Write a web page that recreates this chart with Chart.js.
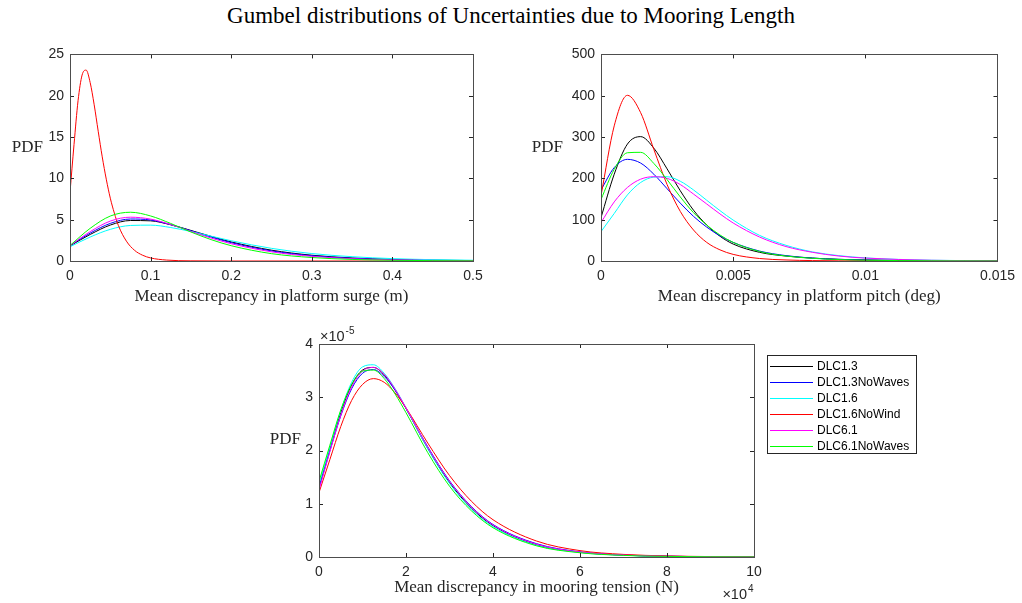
<!DOCTYPE html>
<html>
<head>
<meta charset="utf-8">
<script src="https://cdn.jsdelivr.net/npm/chart.js@4.4.1/dist/chart.umd.min.js"></script>
<style>
  html, body { margin: 0; padding: 0; background: #fff; }
  body { width: 1022px; height: 603px; position: relative; overflow: hidden; }
  #title {
    position: absolute; left: 0; top: 3px; width: 1022px; text-align: center;
    font-family: 'Liberation Serif', serif; font-size: 23px; color: #000;
  }
  .panel { position: absolute; }
</style>
</head>
<body>
<div id="title">Gumbel distributions of Uncertainties due to Mooring Length</div>
<div class="panel" style="left:0;top:40px;width:510px;height:270px"><canvas id="chart-surge"></canvas></div>
<div class="panel" style="left:510px;top:40px;width:512px;height:270px"><canvas id="chart-pitch"></canvas></div>
<div class="panel" style="left:250px;top:320px;width:680px;height:283px"><canvas id="chart-tension"></canvas></div>

<script>
// series names + colours (same order in every panel)
const seriesNames = ['DLC1.3', 'DLC1.3NoWaves', 'DLC1.6', 'DLC1.6NoWind', 'DLC6.1', 'DLC6.1NoWaves'];
const seriesColors = ['#000000', '#0000ff', '#00ffff', '#ff0000', '#ff00ff', '#00ff00'];

// platform surge (m)
const surgeX = [0, 0.025, 0.05, 0.075, 0.1, 0.125, 0.15, 0.175, 0.2, 0.25, 0.3, 0.35, 0.4, 0.45, 0.5];
const surgeRedX = [0, 0.005, 0.01, 0.015, 0.02, 0.025, 0.03, 0.035, 0.04, 0.045, 0.05, 0.055, 0.06, 0.07, 0.08, 0.09, 0.1, 0.12, 0.15, 0.2, 0.3, 0.5];
const surgeBlack = [1.83, 3.21, 4.35, 4.90, 4.86, 4.38, 3.70, 2.98, 2.31, 1.31, 0.70, 0.37, 0.19, 0.10, 0.05];
const surgeBlue = [1.88, 3.37, 4.55, 5.08, 4.96, 4.40, 3.66, 2.90, 2.22, 1.22, 0.64, 0.33, 0.17, 0.08, 0.04];
const surgeCyan = [1.72, 2.90, 3.83, 4.30, 4.34, 4.05, 3.57, 3.01, 2.45, 1.53, 0.90, 0.52, 0.29, 0.16, 0.09];
const surgeRed = [8.3, 14.1, 19.4, 22.5, 23.1, 21.6, 18.9, 15.7, 12.6, 9.9, 7.6, 5.8, 4.3, 2.4, 1.3, 0.7, 0.37, 0.11, 0.02, 0, 0, 0];
const surgeMagenta = [1.86, 3.55, 4.83, 5.30, 5.07, 4.41, 3.58, 2.78, 2.09, 1.11, 0.56, 0.28, 0.14, 0.07, 0.03];
const surgeGreen = [1.88, 3.95, 5.44, 5.90, 5.45, 4.54, 3.51, 2.59, 1.85, 0.89, 0.42, 0.19, 0.09, 0.04, 0.02];

// platform pitch (deg)
const pitchX = [0, 0.0005, 0.001, 0.0015, 0.002, 0.0025, 0.003, 0.0035, 0.004, 0.0045, 0.005, 0.006, 0.007, 0.008, 0.009, 0.01, 0.0125, 0.015];
const pitchBlack = [105, 210, 283, 301, 273, 223, 170, 123, 87, 60, 41, 21, 12, 7, 4, 2.4, 0.6, 0.2];
const pitchBlue = [172, 226, 246, 237, 210, 175, 140, 108, 82, 61, 45, 24, 13, 7, 4, 2.4, 0.6, 0.2];
const pitchCyan = [71, 115, 160, 190, 203, 204, 193, 172, 147, 122, 99, 62, 38, 22, 13, 7.5, 1.9, 0.5];
const pitchRed = [158, 327, 401, 359, 270, 185, 120, 75, 45, 27, 16, 6, 2.5, 1, 0.4, 0.2, 0, 0];
const pitchMagenta = [93, 143, 178, 198, 204, 200, 185, 162, 138, 114, 92, 58, 35, 21, 12, 7, 1.7, 0.4];
const pitchGreen = [149, 222, 262, 263, 236, 197, 155, 117, 87, 63, 45, 23, 12, 6.5, 3.5, 2, 0.5, 0.1];

// mooring tension (N), PDF in units of 1e-5
const tensionX = [0, 2500, 5000, 7500, 10000, 12500, 15000, 17500, 20000, 25000, 30000, 35000, 40000, 50000, 60000, 70000, 80000, 90000, 100000];
const tensionBlack = [1.32, 2.03, 2.71, 3.23, 3.51, 3.56, 3.42, 3.14, 2.79, 2.04, 1.40, 0.92, 0.59, 0.23, 0.089, 0.034, 0.013, 0.005, 0.002];
const tensionBlue = [1.29, 1.99, 2.65, 3.16, 3.45, 3.52, 3.39, 3.13, 2.79, 2.07, 1.43, 0.95, 0.61, 0.25, 0.096, 0.037, 0.014, 0.0055, 0.002];
const tensionCyan = [1.36, 2.06, 2.75, 3.28, 3.57, 3.61, 3.45, 3.16, 2.80, 2.03, 1.38, 0.90, 0.57, 0.22, 0.085, 0.032, 0.012, 0.0045, 0.0017];
const tensionRed = [1.21, 1.83, 2.45, 2.94, 3.24, 3.35, 3.28, 3.08, 2.80, 2.14, 1.53, 1.05, 0.70, 0.30, 0.12, 0.049, 0.02, 0.008, 0.003];
const tensionMagenta = [1.26, 1.98, 2.66, 3.19, 3.49, 3.56, 3.43, 3.15, 2.80, 2.06, 1.42, 0.94, 0.60, 0.24, 0.093, 0.036, 0.014, 0.005, 0.002];
const tensionGreen = [1.42, 2.10, 2.76, 3.24, 3.49, 3.51, 3.35, 3.06, 2.71, 1.96, 1.33, 0.87, 0.55, 0.21, 0.08, 0.03, 0.011, 0.004, 0.0015];

const SERIF = "'Liberation Serif', serif";
const SANS = "'Liberation Sans', Arial, sans-serif";
const AXIS_COLOR = '#262626';

function buildDatasets(xLists, yLists) {
    return yLists.map((ys, i) => ({
        label: seriesNames[i],
        data: ys.map((y, j) => ({ x: xLists[i][j], y: y })),
        borderColor: seriesColors[i],
        borderWidth: 1,
        pointRadius: 0,
        fill: false,
        cubicInterpolationMode: 'monotone',
        order: 5 - i // later series on top, like matlab
    }));
}

// box round the plot, inward ticks on all four sides, PDF label and exponents
const matlabAxes = {
    id: 'matlabAxes',
    afterDatasetsDraw(chart, args, opts) {
        const { ctx, chartArea: a, scales: { x, y } } = chart;
        ctx.save();
        ctx.lineWidth = 1;
        ctx.strokeStyle = AXIS_COLOR;
        ctx.beginPath();
        x.ticks.forEach(t => {
            const px = Math.round(x.getPixelForValue(t.value)) + 0.5;
            ctx.moveTo(px, a.bottom); ctx.lineTo(px, a.bottom - 4);
            ctx.moveTo(px, a.top); ctx.lineTo(px, a.top + 4);
        });
        y.ticks.forEach(t => {
            const py = Math.round(y.getPixelForValue(t.value)) + 0.5;
            ctx.moveTo(a.left, py); ctx.lineTo(a.left + 4, py);
            ctx.moveTo(a.right, py); ctx.lineTo(a.right - 4, py);
        });
        ctx.stroke();
        ctx.strokeStyle = '#4d4d4d';
        ctx.strokeRect(Math.round(a.left) + 0.5, Math.round(a.top) + 0.5,
            Math.round(a.right - a.left), Math.round(a.bottom - a.top));

        // horizontal "PDF" label
        ctx.fillStyle = AXIS_COLOR;
        ctx.font = '17px ' + SERIF;
        ctx.textAlign = 'right';
        ctx.textBaseline = 'middle';
        ctx.fillText('PDF', a.left - opts.pdfGap, a.top + (a.bottom - a.top) * 0.45);

        // exponent labels
        ctx.textAlign = 'left';
        ctx.textBaseline = 'alphabetic';
        if (opts.yExp) {
            ctx.font = '14.5px ' + SANS;
            ctx.fillText('\u00d710', a.left + 1, a.top - 3);
            const w = ctx.measureText('\u00d710').width;
            ctx.font = '10px ' + SANS;
            ctx.fillText(opts.yExp, a.left + 1 + w + 1, a.top - 10);
        }
        if (opts.xExp) {
            ctx.font = '14.5px ' + SANS;
            const w = ctx.measureText('\u00d710').width;
            ctx.fillText('\u00d710', a.right - w - 7, a.bottom + 42);
            ctx.font = '10px ' + SANS;
            ctx.fillText(opts.xExp, a.right - 6, a.bottom + 35);
        }
        ctx.restore();
    }
};

// legend box drawn to the right of the plot
const boxLegend = {
    id: 'boxLegend',
    afterDraw(chart, args, opts) {
        if (!opts.show) return;
        const { ctx, chartArea: a } = chart;
        const x0 = Math.round(a.right) + 13, y0 = Math.round(a.top) + 11, w = 149, h = 98;
        ctx.save();
        ctx.fillStyle = '#fff';
        ctx.fillRect(x0, y0, w, h);
        ctx.lineWidth = 1;
        ctx.strokeStyle = AXIS_COLOR;
        ctx.strokeRect(x0 + 0.5, y0 + 0.5, w, h);
        ctx.font = '12px ' + SANS;
        ctx.textBaseline = 'middle';
        ctx.textAlign = 'left';
        chart.data.datasets.forEach((ds, i) => {
            const yy = Math.round(y0 + 10.7 + i * 16.1) + 0.5;
            ctx.strokeStyle = ds.borderColor;
            ctx.beginPath();
            ctx.moveTo(x0 + 3, yy); ctx.lineTo(x0 + 46, yy);
            ctx.stroke();
            ctx.fillStyle = '#000';
            ctx.fillText(ds.label, x0 + 50, yy);
        });
        ctx.restore();
    }
};

function makeChart(id, cfg) {
    return new Chart(document.getElementById(id).getContext('2d'), {
        type: 'line',
        data: { datasets: cfg.datasets },
        options: {
            responsive: true,
            maintainAspectRatio: false,
            animation: false,
            events: [],
            layout: { padding: cfg.padding },
            plugins: {
                legend: { display: false },
                tooltip: { enabled: false },
                matlabAxes: { pdfGap: cfg.pdfGap, xExp: cfg.xExp, yExp: cfg.yExp },
                boxLegend: { show: !!cfg.legend }
            },
            scales: {
                x: {
                    type: 'linear',
                    min: cfg.xMin, max: cfg.xMax,
                    grid: { display: false, drawTicks: false },
                    border: { display: false },
                    afterFit: s => { s.height = cfg.xHeight; },
                    ticks: {
                        stepSize: cfg.xStep,
                        padding: 7,
                        color: AXIS_COLOR,
                        font: { family: SANS, size: 14 },
                        maxRotation: 0,
                        autoSkip: false,
                        callback: cfg.xFmt
                    },
                    title: {
                        display: true,
                        text: cfg.xTitle,
                        color: AXIS_COLOR,
                        font: { family: SERIF, size: 17 },
                        padding: 0
                    }
                },
                y: {
                    type: 'linear',
                    min: cfg.yMin, max: cfg.yMax,
                    grid: { display: false, drawTicks: false },
                    border: { display: false },
                    afterFit: s => { s.width = cfg.yWidth; },
                    ticks: {
                        stepSize: cfg.yStep,
                        padding: 6,
                        color: AXIS_COLOR,
                        font: { family: SANS, size: 14 },
                        callback: cfg.yFmt
                    }
                }
            }
        },
        plugins: [matlabAxes, boxLegend]
    });
}

makeChart('chart-surge', {
    datasets: buildDatasets(
        [surgeX, surgeX, surgeX, surgeRedX, surgeX, surgeX],
        [surgeBlack, surgeBlue, surgeCyan, surgeRed, surgeMagenta, surgeGreen]),
    xMin: 0, xMax: 0.5, xStep: 0.1,
    yMin: 0, yMax: 25, yStep: 5,
    xFmt: v => String(+v.toFixed(2)),
    yFmt: v => String(v),
    xTitle: 'Mean discrepancy in platform surge (m)',
    yWidth: 70, xHeight: 46,
    padding: { left: 0, top: 11, right: 37, bottom: 3 },
    pdfGap: 27
});

makeChart('chart-pitch', {
    datasets: buildDatasets(
        [pitchX, pitchX, pitchX, pitchX, pitchX, pitchX],
        [pitchBlack, pitchBlue, pitchCyan, pitchRed, pitchMagenta, pitchGreen]),
    xMin: 0, xMax: 0.015, xStep: 0.005,
    yMin: 0, yMax: 500, yStep: 100,
    xFmt: v => String(+v.toFixed(4)),
    yFmt: v => String(v),
    xTitle: 'Mean discrepancy in platform pitch (deg)',
    yWidth: 91, xHeight: 46,
    padding: { left: 0, top: 10, right: 20, bottom: 3 },
    pdfGap: 38
});

makeChart('chart-tension', {
    datasets: buildDatasets(
        [tensionX, tensionX, tensionX, tensionX, tensionX, tensionX],
        [tensionBlack, tensionBlue, tensionCyan, tensionRed, tensionMagenta, tensionGreen]),
    xMin: 0, xMax: 100000, xStep: 20000,
    yMin: 0, yMax: 4, yStep: 1,
    xFmt: v => String(Math.round(v / 10000)),
    yFmt: v => String(v),
    xTitle: 'Mean discrepancy in mooring tension (N)',
    yWidth: 69, xHeight: 41,
    padding: { left: 0, top: 24, right: 176, bottom: 5 },
    pdfGap: 18,
    xExp: '4', yExp: '-5',
    legend: true
});
</script>
</body>
</html>
